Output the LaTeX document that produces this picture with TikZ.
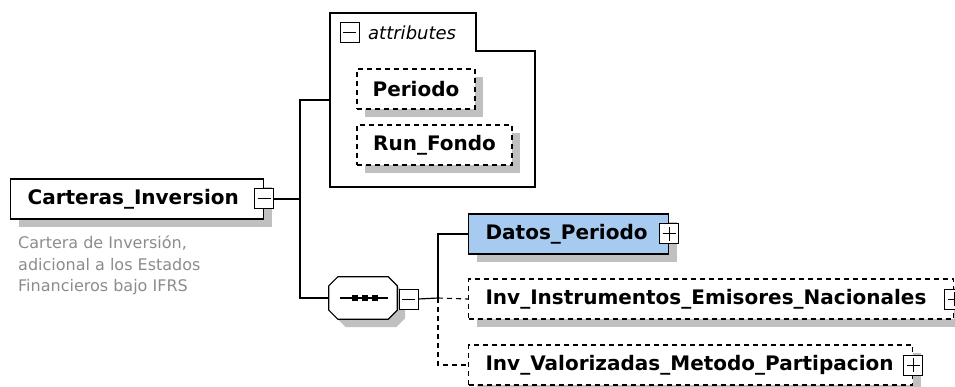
\documentclass[tikz,border=0pt]{standalone}
\usepackage{fontspec}
\setmainfont{DejaVu Sans}
\usepackage{tikz}
\usetikzlibrary{shadows, positioning, calc}

\definecolor{shadowgray}{RGB}{192,192,192}
\definecolor{selblue}{RGB}{166,202,240}
\definecolor{notegray}{RGB}{140,140,140}

\tikzset{
  wire/.style={line width=1.2pt},
  dwire/.style={line width=1.1pt, dash pattern=on 5pt off 4pt},
  withshadow/.style={drop shadow={shadow xshift=8pt, shadow yshift=-8pt, fill=shadowgray, opacity=1}},
  elem/.style={draw, wire, fill=white, withshadow, font=\bfseries\fontsize{20}{22}\selectfont,
    minimum height=40pt, inner xsep=17pt, inner ysep=0pt, align=left, anchor=west},
  optelem/.style={elem, dwire},
  attr/.style={draw, dwire, fill=white, withshadow, font=\bfseries\fontsize{20}{22}\selectfont,
    minimum height=40pt, inner sep=0pt},
  togglebox/.style={draw, line width=1pt, fill=white, minimum width=19pt, minimum height=20pt, inner sep=0pt},
  minusbox/.style={togglebox, path picture={
    \draw[line width=1pt] ([xshift=3pt]path picture bounding box.west) -- ([xshift=-3pt]path picture bounding box.east);}},
  plusbox/.style={togglebox, path picture={
    \draw[line width=1pt] ([xshift=3pt]path picture bounding box.west) -- ([xshift=-3pt]path picture bounding box.east);
    \draw[line width=1pt] ([yshift=-3pt]path picture bounding box.north) -- ([yshift=3pt]path picture bounding box.south);}},
  seqdot/.style={fill, minimum size=6pt, inner sep=0pt},
  note/.style={text=notegray, font=\fontsize{16}{21.5}\selectfont, align=left, anchor=north west, inner sep=0pt}
}

\begin{document}
\begin{tikzpicture}[x=1pt, y=-1pt]
\useasboundingbox (0,0) rectangle (955,387);

% attributes container
\draw[wire] (330,187) -- (330,13) -- (476,13) -- (476,51) -- (535,51) -- (535,187) -- cycle;
\node[minusbox] (attricon) at (349.5,32.5) {};
\node[anchor=west, inner sep=0pt, font=\itshape\fontsize{18}{20}\selectfont] (attrlabel) at (368,33) {attributes};
\node[attr, minimum width=118pt] (periodo) at (416,89) {Periodo};
\node[attr, minimum width=155pt] (runfondo) at (434.5,145) {Run\_Fondo};
\coordinate (attr) at (330,100);

% root element
\node[elem, text width=219pt] (root) at (10,199) {Carteras\_Inversion};
\node[minusbox] (rooticon) at (root.east) {};
\node[note] (rootnote) at (18,236) {Cartera de Inversión,\\adicional a los Estados\\Financieros bajo IFRS};
\coordinate (trunk) at (300,199);

% sequence compositor (octagon)
\node[minimum width=68pt, minimum height=42pt, inner sep=0pt] (seq) at (363,298) {};
\fill[shadowgray, transform canvas={shift={(8pt,-8pt)}}]
  ($(seq.north west)+(9,0)$) -- ($(seq.north east)+(-9,0)$) -- ($(seq.north east)+(0,9)$)
  -- ($(seq.south east)+(0,-9)$) -- ($(seq.south east)+(-9,0)$) -- ($(seq.south west)+(9,0)$)
  -- ($(seq.south west)+(0,-9)$) -- ($(seq.north west)+(0,9)$) -- cycle;
\draw[wire, fill=white]
  ($(seq.north west)+(9,0)$) -- ($(seq.north east)+(-9,0)$) -- ($(seq.north east)+(0,9)$)
  -- ($(seq.south east)+(0,-9)$) -- ($(seq.south east)+(-9,0)$) -- ($(seq.south west)+(9,0)$)
  -- ($(seq.south west)+(0,-9)$) -- ($(seq.north west)+(0,9)$) -- cycle;
\draw[line width=1.5pt] ($(seq.center)+(-23,0)$) -- ($(seq.center)+(25,0)$);
\foreach \dx in {-8.5,1.5,11.5}
  \node[seqdot] at ($(seq.center)+(\dx,0)$) {};
\node[minusbox] (seqicon) at (408.5,299) {};
\coordinate (branch) at (438,298);

% child elements
\node[elem, fill=selblue, text width=166pt] (datos) at (468,234) {Datos\_Periodo};
\node[plusbox] (datosicon) at (datos.east) {};
\node[optelem, text width=451pt] (instr) at (468,299) {Inv\_Instrumentos\_Emisores\_Nacionales};
\node[plusbox] (instricon) at (instr.east) {};
\node[optelem, text width=410pt] (valor) at (468,365) {Inv\_Valorizadas\_Metodo\_Partipacion};
\node[plusbox] (valoricon) at (valor.east) {};

% connectors
\draw[wire] (rooticon.east) -- (trunk);
\draw[wire] (attr) -| (trunk) |- (seq.west);
\draw[wire] (seqicon.east) -- (branch);
\draw[wire] (branch) |- (datos.west);
\draw[dwire] (branch) -- (instr.west);
\draw[dwire] (branch) |- (valor.west);
\end{tikzpicture}
\end{document}
